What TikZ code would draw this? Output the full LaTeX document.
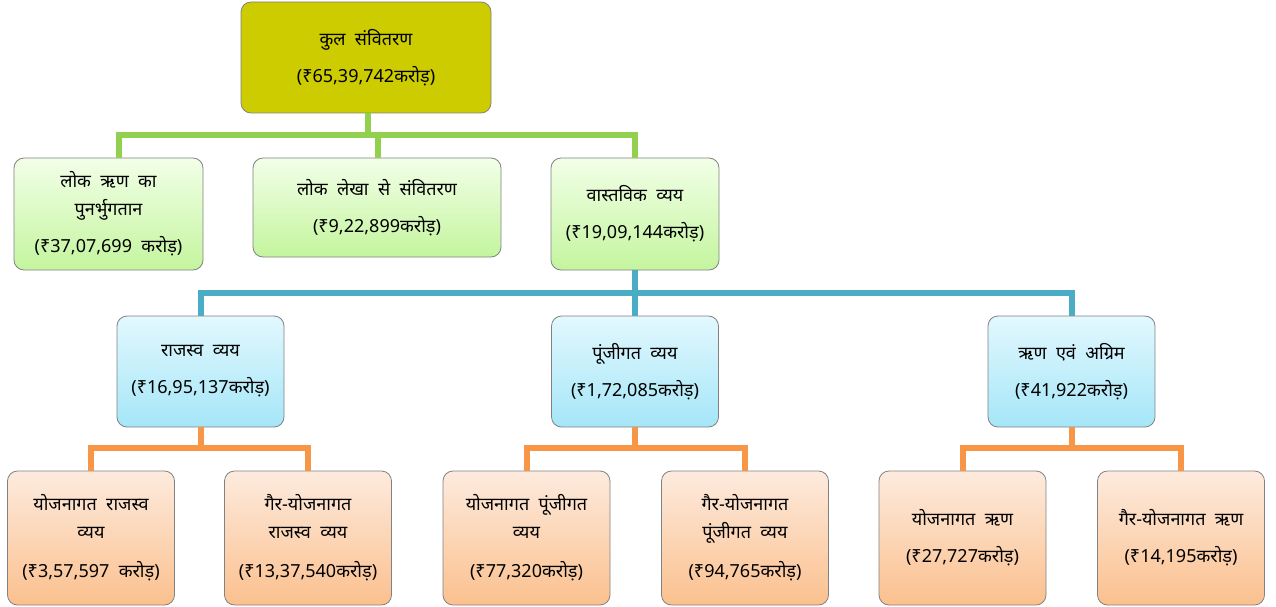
\documentclass[tikz,border=0pt]{standalone}
\usepackage{fontspec}
\setmainfont[Script=Devanagari,WordSpace=2]{Noto Sans}
\usetikzlibrary{calc}
\definecolor{topfill}{RGB}{204,204,0}
\definecolor{gtop}{RGB}{242,255,232}
\definecolor{gbot}{RGB}{196,245,158}
\definecolor{btop}{RGB}{226,248,254}
\definecolor{bbot}{RGB}{165,230,248}
\definecolor{otop}{RGB}{253,235,222}
\definecolor{obot}{RGB}{251,192,142}
\definecolor{gline}{RGB}{146,208,80}
\definecolor{bline}{RGB}{75,172,198}
\definecolor{oline}{RGB}{247,150,70}
\definecolor{edge}{RGB}{130,130,130}
\tikzset{
  x=1pt, y=-1pt,
  box/.style={rectangle, rounded corners=10pt, draw=edge, line width=0.8pt,
    align=center, inner sep=2pt, font=\fontsize{18}{28}\selectfont},
  topbox/.style={box, fill=topfill, minimum width=250pt, minimum height=111pt},
  gbox/.style={box, top color=gtop, bottom color=gbot, minimum height=112pt},
  bbox/.style={box, top color=btop, bottom color=bbot, minimum width=167pt, minimum height=111pt},
  obox/.style={box, top color=otop, bottom color=obot, minimum width=167pt, minimum height=134pt},
  gconn/.style={draw=gline, line width=6pt},
  bconn/.style={draw=bline, line width=6pt},
  oconn/.style={draw=oline, line width=6pt},
}
\begin{document}
\begin{tikzpicture}
\fill[white] (0,0) rectangle (1276,607);
\useasboundingbox (0,0) rectangle (1276,607);

\node[topbox] (top) at (366,57.5) {कुल संवितरण\\[9pt](₹65,39,742करोड़)};

\node[gbox, minimum width=189pt] (A) at (108.5,214) {लोक ऋण का\\पुनर्भुगतान\\[9pt](₹37,07,699 करोड़)};
\node[gbox, minimum width=248pt, minimum height=99pt] (B) at (377,207.5) {लोक लेखा से संवितरण\\[9pt](₹9,22,899करोड़)};
\node[gbox, minimum width=168pt] (C) at (635,214) {वास्तविक व्यय\\[9pt](₹19,09,144करोड़)};

\node[bbox] (R) at (200.5,371.5) {राजस्व व्यय\\[9pt](₹16,95,137करोड़)};
\node[bbox] (P) at (635,371.5) {पूंजीगत व्यय\\[9pt](₹1,72,085करोड़)};
\node[bbox] (L) at (1071.5,371.5) {ऋण एवं अग्रिम\\[9pt](₹41,922करोड़)};

\node[obox] (b1) at (91,538) {योजनागत राजस्व\\व्यय\\[11pt](₹3,57,597 करोड़)};
\node[obox] (b2) at (308,538) {गैर-योजनागत\\राजस्व व्यय\\[11pt](₹13,37,540करोड़)};
\node[obox] (b3) at (526.5,538) {योजनागत पूंजीगत\\व्यय\\[11pt](₹77,320करोड़)};
\node[obox] (b4) at (745,538) {गैर-योजनागत\\पूंजीगत व्यय\\[11pt](₹94,765करोड़)};
\node[obox] (b5) at (962.5,538) {योजनागत ऋण\\[9pt](₹27,727करोड़)};
\node[obox] (b6) at (1181,538) {गैर-योजनागत ऋण\\[9pt](₹14,195करोड़)};

% green connectors
\draw[gconn] ([xshift=2pt]top.south) -- ([xshift=2pt]top.south |- 0,135);
\draw[gconn] ([xshift=10.5pt]A.north) |- (C.north |- 0,135) -- (C.north);
\draw[gconn] ([xshift=1pt]B.north) -- ([xshift=1pt]B.north |- 0,135);

% blue connectors
\draw[bconn] (C.south) -- (C.south |- 0,293);
\draw[bconn] (R.north) |- (L.north |- 0,293) -- (L.north);
\draw[bconn] (P.north) -- (P.north |- 0,293);

% orange connectors
\draw[oconn] (R.south) -- (R.south |- 0,448);
\draw[oconn] (b1.north) |- (b2.north |- 0,448) -- (b2.north);
\draw[oconn] (P.south) -- (P.south |- 0,448);
\draw[oconn] (b3.north) |- (b4.north |- 0,448) -- (b4.north);
\draw[oconn] (L.south) -- (L.south |- 0,448);
\draw[oconn] (b5.north) |- (b6.north |- 0,448) -- (b6.north);
\end{tikzpicture}
\end{document}
